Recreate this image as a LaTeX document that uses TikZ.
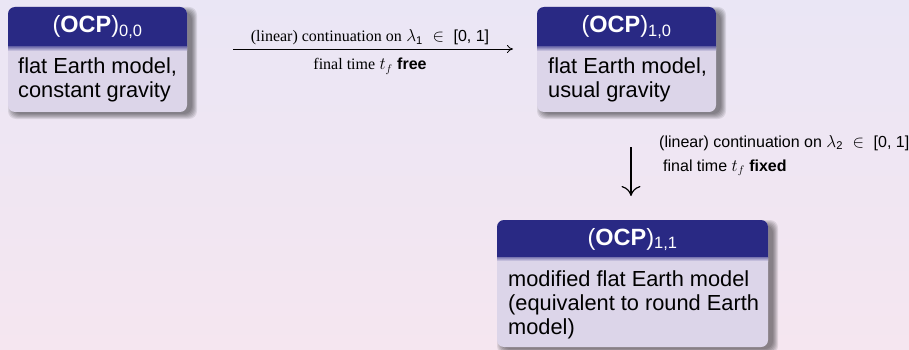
\documentclass[tikz,border=0pt]{standalone}
\usepackage{amsmath}
\usepackage{fontspec}
\setmainfont{Liberation Sans}
\newfontfamily\seriffam{Liberation Serif}
\usetikzlibrary{arrows.meta}
\definecolor{bgtop}{RGB}{234,230,245}
\definecolor{bgbot}{RGB}{245,230,240}
\definecolor{hdrblue}{RGB}{41,41,132}
\definecolor{bodylav}{RGB}{220,213,233}
\tikzset{
  blocktitle/.style={anchor=base, text=white, inner sep=0pt, font=\fontsize{23.5}{27}\selectfont},
  blockbody/.style={anchor=base west, inner sep=0pt, font=\fontsize{21.8}{24}\selectfont},
  arrowlabel/.style={inner sep=0pt, font=\fontsize{16}{24}\selectfont},
  connh/.style={-{To[length=6pt,width=8pt]}, line width=0.8pt},
  connv/.style={-{To[length=10pt,width=19pt]}, line width=1.2pt},
}
\newcommand{\drawblock}[5]{%
  \foreach \d in {0,1,2,3,4,5}{
    \fill[black,opacity=0.09,rounded corners=8pt] (#1+\d,#2+\d) rectangle (#3+10-\d,#5+7-\d);
  }
  \fill[bodylav, rounded corners=7pt] (#1,#2) rectangle (#3,#5);
  \begin{scope}
    \clip (#1,#2) rectangle (#3,#4);
    \fill[hdrblue, rounded corners=7pt] (#1,#2) rectangle (#3,#5);
  \end{scope}
  \shade[top color=hdrblue!55!bodylav, bottom color=bodylav] (#1,#4) rectangle (#3,#4+4);
}
\newcommand{\bodylines}[1]{\vtop{\baselineskip=24pt #1}}
\begin{document}
\begin{tikzpicture}[x=1pt,y=-1pt]
\useasboundingbox (0,0) rectangle (909,350);
\shade[top color=bgtop, bottom color=bgbot] (0,0) rectangle (909,350);

\drawblock{8}{7}{187}{47}{112}
\drawblock{537}{7}{716}{47}{112}
\drawblock{497}{220}{768}{257}{347}

\node[blocktitle] (t00) at (97.5,33) {(\textbf{OCP})$_{\text{0,0}}$};
\node[blockbody] (b00) at (18,74) {\bodylines{\hbox{flat Earth model,}\hbox{constant gravity}}};

\node[blocktitle] (t10) at (626.5,33) {(\textbf{OCP})$_{\text{1,0}}$};
\node[blockbody] (b10) at (548,74) {\bodylines{\hbox{flat Earth model,}\hbox{usual gravity}}};

\node[blocktitle] (t11) at (632.5,245) {(\textbf{OCP})$_{\text{1,1}}$};
\node[blockbody] (b11) at (508,286) {\bodylines{\hbox{modified flat Earth model}\hbox{(equivalent to round Earth}\hbox{model)}}};

\coordinate (a1s) at (233,49);
\coordinate (a1e) at (513,49);
\draw[connh] (a1s) -- (a1e);
\node[arrowlabel, anchor=base] (l1a) at (370,42) {{\seriffam (linear) continuation on} $\lambda_{\text{1}} \;\in\; \text{[0, 1]}$};
\node[arrowlabel, anchor=base] (l1b) at (370,70) {{\seriffam final time} $t_f$ \textbf{free}};

\coordinate (a2s) at (631,147);
\coordinate (a2e) at (631,196);
\draw[connv] (a2s) -- (a2e);
\node[arrowlabel, anchor=base west] (l2a) at (659,147) {(linear) continuation on $\lambda_{\text{2}} \;\in\; \text{[0, 1]}$};
\node[arrowlabel, anchor=base west] (l2b) at (663,171) {final time $t_f$ \textbf{fixed}};
\end{tikzpicture}
\end{document}
